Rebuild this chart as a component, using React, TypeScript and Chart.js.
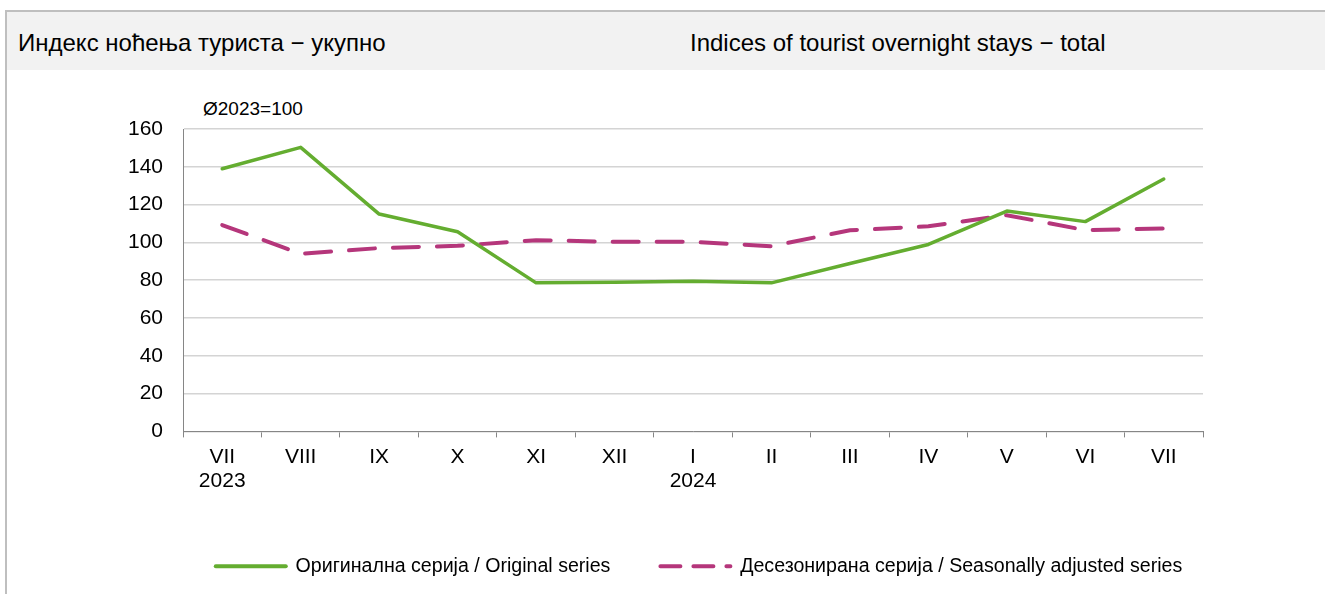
import React, { useEffect, useRef } from "react";
import { Chart, registerables } from "chart.js";

Chart.register(...registerables);

const categories: string[][] = [
  ["VII", "2023"], ["VIII"], ["IX"], ["X"], ["XI"], ["XII"],
  ["I", "2024"], ["II"], ["III"], ["IV"], ["V"], ["VI"], ["VII"],
];
const originalSeries: number[] = [139.0, 150.3, 115.0, 105.6, 78.6, 78.9, 79.4, 78.6, 88.8, 98.9, 116.6, 111.0, 133.5];
const seasonalSeries: number[] = [109.2, 94.0, 97.0, 98.2, 101.2, 100.3, 100.3, 98.0, 106.4, 108.5, 114.4, 106.5, 107.4];
const originalLabel = "Оригинална серија / Original series";
const seasonalLabel = "Десезонирана серија / Seasonally adjusted series";
const titleLeft = "Индекс ноћења туриста − укупно";
const titleRight = "Indices of tourist overnight stays − total";
const baseNote = "Ø2023=100";
const yMin = 0;
const yMax = 160;
const yStep = 20;

const FONT = "'Liberation Sans', Arial, sans-serif";
const GREEN = "#64ad30";
const MAGENTA = "#b5367b";

export default function App() {
  const canvasRef = useRef<HTMLCanvasElement | null>(null);

  useEffect(() => {
    if (!canvasRef.current) return;
    const chart = new Chart(canvasRef.current, {
      type: "line",
      data: {
        labels: categories,
        datasets: [
          {
            label: originalLabel,
            data: originalSeries,
            borderColor: GREEN,
            backgroundColor: GREEN,
            borderWidth: 3.5,
            pointRadius: 0,
            tension: 0,
            borderJoinStyle: "round",
            borderCapStyle: "round",
          },
          {
            label: seasonalLabel,
            data: seasonalSeries,
            borderColor: MAGENTA,
            backgroundColor: MAGENTA,
            borderWidth: 4,
            borderDash: [26, 18],
            borderCapStyle: "round",
            pointRadius: 0,
            tension: 0,
          },
        ],
      },
      options: {
        responsive: false,
        animation: false,
        layout: { padding: { top: 39, left: 0, right: 0, bottom: 8 } },
        plugins: {
          title: { display: false },
          tooltip: { enabled: false },
          legend: {
            position: "bottom",
            labels: {
              usePointStyle: true,
              pointStyleWidth: 70,
              padding: 50,
              color: "#000",
              font: { family: FONT, size: 19.6 },
              generateLabels: (ch: any) =>
                ch.data.datasets.map((ds: any, i: number) => ({
                  text: ds.label,
                  pointStyle: "line",
                  strokeStyle: ds.borderColor,
                  fillStyle: ds.borderColor,
                  lineWidth: 4,
                  lineDash: i === 1 ? [20, 13] : [],
                  lineCap: "round",
                  datasetIndex: i,
                  hidden: false,
                  fontColor: "#000",
                })),
            },
          },
        },
        scales: {
          x: {
            offset: true,
            afterFit: (axis: any) => {
              axis.height = 75;
            },
            grid: {
              offset: true,
              drawOnChartArea: false,
              drawTicks: true,
              tickLength: 6,
              color: "#868686",
              lineWidth: 1,
            },
            border: { display: true, color: "#868686", width: 1 },
            ticks: {
              color: "#000",
              padding: 8,
              maxRotation: 0,
              autoSkip: false,
              font: { family: FONT, size: 21, lineHeight: 1.15 },
            },
          },
          y: {
            min: yMin,
            max: yMax,
            afterFit: (axis: any) => {
              axis.width = 103;
            },
            grid: {
              drawTicks: false,
              color: "#d4d4d4",
              lineWidth: 1.5,
            },
            border: { display: true, color: "#868686", width: 1 },
            ticks: {
              stepSize: yStep,
              color: "#000",
              padding: 20,
              font: { family: FONT, size: 21 },
            },
          },
          spacer: {
            type: "linear",
            position: "right",
            display: true,
            afterFit: (axis: any) => {
              axis.width = 115;
            },
            grid: { display: false, drawTicks: false },
            border: { display: false },
            ticks: { display: false },
          },
        },
      },
    });
    return () => chart.destroy();
  }, []);

  return (
    <div
      style={{
        position: "fixed",
        left: 0,
        top: 0,
        width: 1325,
        height: 594,
        background: "#fff",
        overflow: "hidden",
        fontFamily: FONT,
      }}
    >
      <div
        style={{
          position: "absolute",
          left: 5,
          top: 10,
          width: 1320,
          height: 584,
          borderTop: "2px solid #bfbfbf",
          borderLeft: "2px solid #bfbfbf",
          boxSizing: "border-box",
        }}
      />
      <div
        style={{
          position: "absolute",
          left: 7,
          top: 12,
          width: 1318,
          height: 58,
          background: "#f2f2f2",
        }}
      />
      <div style={{ position: "absolute", left: 18, top: 29, fontSize: 24, lineHeight: "28px", color: "#000", whiteSpace: "nowrap" }}>
        {titleLeft}
      </div>
      <div style={{ position: "absolute", left: 690, top: 29, fontSize: 24, lineHeight: "28px", color: "#000", whiteSpace: "nowrap" }}>
        {titleRight}
      </div>
      <div style={{ position: "absolute", left: 203, top: 98, fontSize: 19, lineHeight: "21px", color: "#000", whiteSpace: "nowrap" }}>
        {baseNote}
      </div>
      <canvas
        ref={canvasRef}
        width={1238}
        height={504}
        style={{ position: "absolute", left: 80, top: 90, width: 1238, height: 504 }}
      />
    </div>
  );
}
